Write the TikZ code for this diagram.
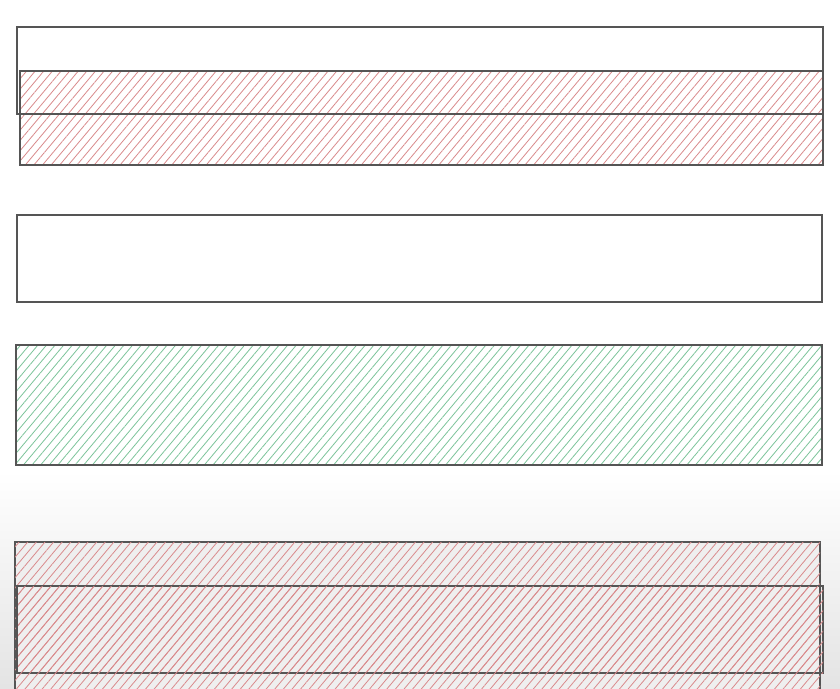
\documentclass[tikz,border=0pt]{standalone}
\usepackage{tikz}
\usetikzlibrary{patterns.meta}
\definecolor{edgegray}{HTML}{555555}
\definecolor{hatchred}{HTML}{D98A8C}
\definecolor{hatchgreen}{HTML}{7CC49A}
\definecolor{shadegray}{HTML}{E4E4E4}

\begin{document}
\begin{tikzpicture}[
        x=1pt, y=-1pt,
        bar/.style={draw=edgegray, line width=1.1pt, inner sep=0pt, outer sep=0pt, anchor=north west},
        redhatch/.style={pattern={Lines[angle=50, distance=6.6pt, line width=0.8pt]}, pattern color=hatchred},
        greenhatch/.style={pattern={Lines[angle=50, distance=6.6pt, line width=0.8pt]}, pattern color=hatchgreen}
    ]
        \clip (0,0) rectangle (840,688);
        \fill[white] (0,0) rectangle (840,688);
        \shade[top color=white, bottom color=shadegray] (0,470) rectangle (840,688);
        % top pair
        \node[bar, fill=white, minimum width=806pt, minimum height=87pt] (top) at (17,27) {};
        \node[bar, redhatch, minimum width=803pt, minimum height=94pt] (topred) at (20,71) {};
        \draw[edgegray, line width=1.1pt] (top.south west) -- (top.south east);
        \draw[edgegray, line width=1.1pt] (top.west |- topred.north) -- (top.south west);
        % plain bar
        \node[bar, fill=white, minimum width=805pt, minimum height=87pt] (plain) at (17,215) {};
        % green bar
        \node[bar, greenhatch, minimum width=806pt, minimum height=120pt] (green) at (16,345) {};
        % bottom pair
        \node[bar, fill=shadegray!60, postaction={redhatch}, minimum width=805pt, minimum height=160pt] (lowred) at (15,542) {};
        \node[bar, line width=1.4pt, postaction={redhatch}, minimum width=806pt, minimum height=87pt] (lowinner) at (17,586) {};
        \draw[edgegray, line width=2pt] (lowinner.north west) -- (lowinner.south west);
    \end{tikzpicture}
\end{document}
